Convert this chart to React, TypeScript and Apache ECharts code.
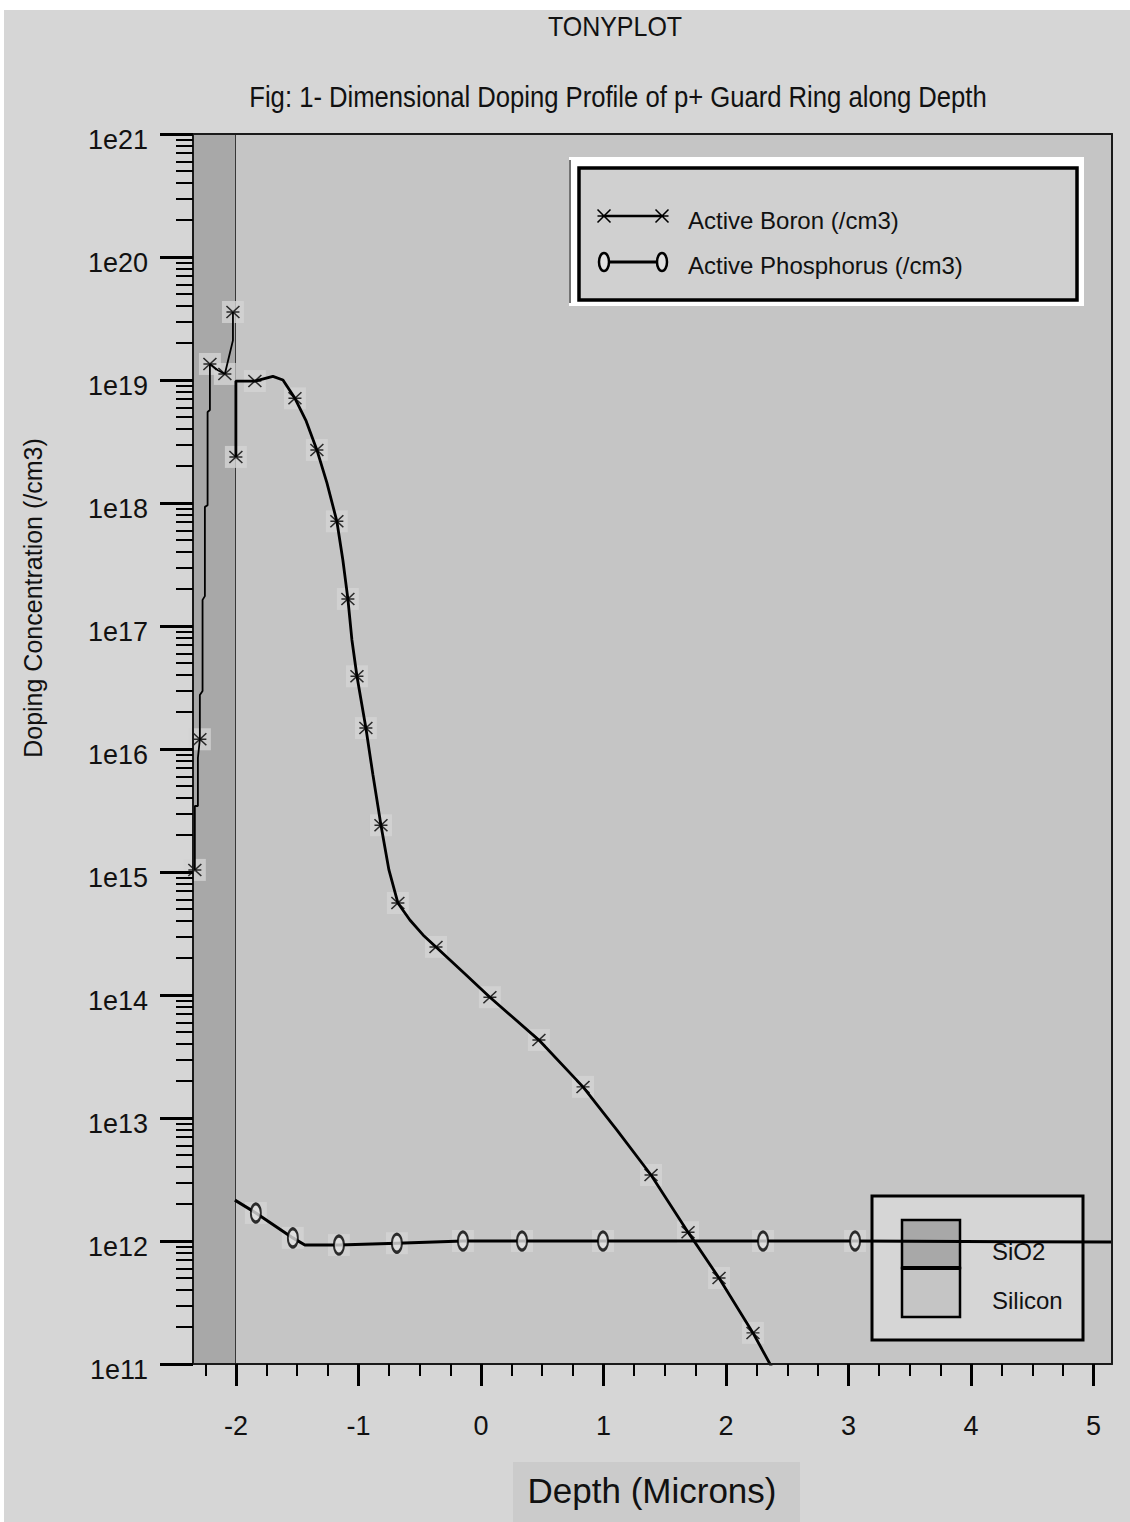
import React, { useEffect, useRef } from "react";
import * as echarts from "echarts";

// ---------- axis / tick data ----------
const xRange = [-2.35, 5.15];
const xTickValues = [-2, -1, 0, 1, 2, 3, 4, 5];
const xMinorStep = 0.25;
const yDecadeExponents = [11, 12, 13, 14, 15, 16, 17, 18, 19, 20, 21];
const yTickLabels = ["1e11", "1e12", "1e13", "1e14", "1e15", "1e16", "1e17", "1e18", "1e19", "1e20", "1e21"];
const yMinorMultipliers = [2, 3, 4, 5, 6, 7, 8, 9];

// ---------- material regions ----------
const regionNames = ["SiO2", "Silicon"];
const regionFrom = [-2.35, -2.0];
const regionTo = [-2.0, 5.15];
const regionColors = ["#a8a8a8", "#c5c5c5"];

// ---------- Active Boron, oxide layer ----------
const boronOxideX = [-2.335, -2.335, -2.31, -2.31, -2.294, -2.294, -2.272, -2.272, -2.253, -2.253, -2.231, -2.231, -2.212, -2.212, -2.147, -2.09, -2.049, -2.024, -2.024];
const boronOxideY = [1.04e15, 3.44e15, 3.44e15, 8.45e15, 1.2e16, 2.75e16, 2.96e16, 1.63e17, 1.75e17, 9.3e17, 9.6e17, 5.5e18, 5.7e18, 1.35e19, 1.2e19, 1.12e19, 1.66e19, 2.1e19, 3.57e19];
const boronOxideMarkers = [0, 4, 13, 15, 18];

// ---------- Active Boron, silicon ----------
const boronSiX = [-2.0, -2.0, -1.967, -1.845, -1.698, -1.616, -1.518, -1.429, -1.339, -1.257, -1.176, -1.127, -1.086, -1.053, -1.012, -0.939, -0.882, -0.816, -0.751, -0.678, -0.58, -0.473, -0.367, -0.147, 0.073, 0.473, 0.833, 1.11, 1.388, 1.69, 1.943, 2.22, 2.359, 2.441];
const boronSiY = [2.37e18, 9.8e18, 9.8e18, 9.8e18, 1.07e19, 1.0e19, 7.1e18, 4.7e18, 2.7e18, 1.46e18, 7.1e17, 3.44e17, 1.66e17, 7.7e16, 3.9e16, 1.48e16, 6.2e15, 2.4e15, 1.04e15, 5.6e14, 4.07e14, 3.08e14, 2.46e14, 1.54e14, 9.6e13, 4.3e13, 1.79e13, 7.98e12, 3.44e12, 1.18e12, 5.0e11, 1.79e11, 1.0e11, 7.1e10];
const boronSiMarkers = [0, 3, 6, 8, 10, 12, 14, 15, 17, 19, 22, 24, 25, 26, 28, 29, 30, 31];

// ---------- Active Phosphorus ----------
const phosX = [-2.008, -1.837, -1.535, -1.437, -1.159, -0.686, -0.147, 0.335, 0.996, 2.302, 3.053, 5.15];
const phosY = [2.15e12, 1.69e12, 1.06e12, 9.27e11, 9.27e11, 9.6e11, 1.0e12, 1.0e12, 1.0e12, 1.0e12, 1.0e12, 9.8e11];
const phosMarkers = [1, 2, 4, 5, 6, 7, 8, 9, 10];

// ---------- styles ----------
const SANS = "'Liberation Sans', Arial, 'DejaVu Sans', sans-serif";
const STAR_D = "M0,0L10,10M10,0L0,10M0,5L10,5";

const toPts = (xs: number[], ys: number[]) => xs.map((x, i) => [x, Math.log10(ys[i])]);
const pick = (pts: number[][], idx: number[]) => idx.map((i) => pts[i]);

function buildOption() {
  const boronOxide = toPts(boronOxideX, boronOxideY);
  const boronSi = toPts(boronSiX, boronSiY);
  const phos = toPts(phosX, phosY);
  const boronMarks = [...pick(boronOxide, boronOxideMarkers), ...pick(boronSi, boronSiMarkers)];
  const phosMarks = pick(phos, phosMarkers);

  const yMin = yDecadeExponents[0];
  const yMax = yDecadeExponents[yDecadeExponents.length - 1];
  const yMinor: number[] = [];
  yDecadeExponents.slice(0, -1).forEach((e) => yMinorMultipliers.forEach((m) => yMinor.push(e + Math.log10(m))));
  const xMinor: number[] = [];
  for (let v = Math.ceil(xRange[0] / xMinorStep) * xMinorStep; v <= xRange[1] + 1e-9; v += xMinorStep) {
    if (Math.abs(v - Math.round(v)) > 1e-6) xMinor.push(+v.toFixed(3));
  }

  const grid = { left: 193, top: 134, width: 919, height: 1230, containLabel: false };
  const noLine = { show: false, onZero: false };
  const frameLine = { show: true, onZero: false, lineStyle: { color: "#1a1a1a", width: 2 } };

  const labelStyle = { fontFamily: SANS, fontSize: 27, color: "#111" };

  return {
    animation: false,
    backgroundColor: "#ffffff",
    grid: [grid, { ...grid }],
    xAxis: [
      {
        gridIndex: 0, type: "value", position: "bottom", min: xRange[0], max: xRange[1], z: 6,
        axisLine: frameLine,
        axisTick: { show: true, length: 22, customValues: xTickValues, lineStyle: { color: "#000", width: 3 } },
        axisLabel: { ...labelStyle, margin: 48, customValues: xTickValues, formatter: (v: number) => String(v) },
        splitLine: { show: false },
      },
      {
        gridIndex: 0, type: "value", position: "top", min: xRange[0], max: xRange[1], z: 6,
        axisLine: frameLine, axisTick: { show: false }, axisLabel: { show: false }, splitLine: { show: false },
      },
      {
        gridIndex: 1, type: "value", position: "bottom", min: xRange[0], max: xRange[1], z: 6,
        axisLine: noLine,
        axisTick: { show: true, length: 12, customValues: xMinor, lineStyle: { color: "#000", width: 2 } },
        axisLabel: { show: false }, splitLine: { show: false },
      },
    ],
    yAxis: [
      {
        gridIndex: 0, type: "value", position: "left", min: yMin, max: yMax, interval: 1, z: 6,
        axisLine: frameLine,
        axisTick: { show: true, length: 33, lineStyle: { color: "#000", width: 3 } },
        axisLabel: {
          ...labelStyle, margin: 45, verticalAlign: "top", lineHeight: 12,
          formatter: (v: number) => yTickLabels[yDecadeExponents.indexOf(Math.round(v))] ?? "",
        },
        splitLine: { show: false },
      },
      {
        gridIndex: 0, type: "value", position: "right", min: yMin, max: yMax, z: 6,
        axisLine: frameLine, axisTick: { show: false }, axisLabel: { show: false }, splitLine: { show: false },
      },
      {
        gridIndex: 1, type: "value", position: "left", min: yMin, max: yMax, z: 6,
        axisLine: noLine,
        axisTick: { show: true, length: 17, customValues: yMinor, lineStyle: { color: "#000", width: 2 } },
        axisLabel: { show: false }, splitLine: { show: false },
      },
    ],
    series: [
      {
        name: "regions", type: "custom", xAxisIndex: 0, yAxisIndex: 0, z: 1, silent: true,
        data: regionNames.map((n, i) => ({ name: n, value: [regionFrom[i], regionTo[i]] })),
        renderItem: (params: any, api: any) => {
          const p0 = api.coord([api.value(0), yMax]);
          const p1 = api.coord([api.value(1), yMin]);
          const children: any[] = [
            { type: "rect", shape: { x: p0[0], y: p0[1], width: p1[0] - p0[0], height: p1[1] - p0[1] }, style: { fill: regionColors[params.dataIndex] } },
          ];
          if (api.value(1) < xRange[1]) {
            children.push({ type: "line", shape: { x1: p1[0], y1: p0[1], x2: p1[0], y2: p1[1] }, style: { stroke: "#111", lineWidth: 1.5 } });
          }
          return { type: "group", children };
        },
      },
      {
        name: "halo", type: "scatter", z: 3, silent: true, symbol: "rect", symbolSize: 22,
        itemStyle: { color: "#d3d3d3" }, data: [...boronMarks, ...phosMarks],
      },
      {
        name: "Active Boron (/cm3) oxide", type: "line", z: 4, showSymbol: false, data: boronOxide,
        lineStyle: { color: "#000", width: 1.8 },
      },
      {
        name: "Active Boron (/cm3)", type: "line", z: 4, showSymbol: false, data: boronSi,
        lineStyle: { color: "#000", width: 2.8 },
      },
      {
        name: "Active Phosphorus (/cm3)", type: "line", z: 4, showSymbol: false, data: phos,
        lineStyle: { color: "#000", width: 3 },
      },
      {
        name: "boron markers", type: "scatter", z: 5, data: boronMarks,
        symbol: "path://" + STAR_D, symbolSize: [13, 12],
        itemStyle: { color: "rgba(0,0,0,0)", borderColor: "#000", borderWidth: 1.5 },
      },
      {
        name: "phosphorus markers", type: "scatter", z: 5, data: phosMarks,
        symbol: "circle", symbolSize: [10, 18],
        itemStyle: { color: "#e2e2e2", borderColor: "#000", borderWidth: 2.5 },
      },
    ],
    graphic: [
      // panel
      { type: "rect", z: 0, silent: true, shape: { x: 4, y: 10, width: 1126, height: 1512 }, style: { fill: "#d6d6d6" } },
      // titles
      { type: "text", z: 7, x: 615, y: 27, scaleY: 1.1, style: { text: "TONYPLOT", font: `25px ${SANS}`, fill: "#111", textAlign: "center", textVerticalAlign: "middle" } },
      { type: "text", z: 7, x: 618, y: 97, scaleX: 0.95, scaleY: 1.1, style: { text: "Fig: 1- Dimensional Doping Profile of p+ Guard Ring along Depth", font: `27px ${SANS}`, fill: "#111", textAlign: "center", textVerticalAlign: "middle" } },
      // axis names
      { type: "text", z: 7, x: 33, y: 598, rotation: Math.PI / 2, style: { text: "Doping Concentration (/cm3)", font: `25px ${SANS}`, fill: "#111", textAlign: "center", textVerticalAlign: "middle" } },
      { type: "rect", z: 1, shape: { x: 513, y: 1462, width: 287, height: 60 }, style: { fill: "#cbcbcb" } },
      { type: "text", z: 7, x: 652, y: 1490, style: { text: "Depth (Microns)", font: `35px ${SANS}`, fill: "#111", textAlign: "center", textVerticalAlign: "middle" } },
      // series legend
      { type: "rect", z: 7, shape: { x: 569, y: 157, width: 515, height: 149 }, style: { fill: "#ffffff" } },
      { type: "line", z: 7, shape: { x1: 570, y1: 160, x2: 570, y2: 303 }, style: { stroke: "#444", lineWidth: 1.5 } },
      { type: "rect", z: 7, shape: { x: 579, y: 168, width: 498, height: 132 }, style: { fill: "#d0d0d0", stroke: "#000", lineWidth: 3.5 } },
      { type: "line", z: 8, shape: { x1: 604, y1: 216, x2: 662, y2: 216 }, style: { stroke: "#000", lineWidth: 2.5 } },
      { type: "boronStar", z: 8, x: 604 - 6.5, y: 216 - 6.5, scaleX: 1.3, scaleY: 1.3, style: { stroke: "#000", fill: "none", lineWidth: 1.2 } },
      { type: "boronStar", z: 8, x: 662 - 6.5, y: 216 - 6.5, scaleX: 1.3, scaleY: 1.3, style: { stroke: "#000", fill: "none", lineWidth: 1.2 } },
      { type: "text", z: 8, x: 688, y: 220, style: { text: "Active Boron (/cm3)", font: `24px ${SANS}`, fill: "#111", textVerticalAlign: "middle" } },
      { type: "line", z: 8, shape: { x1: 604, y1: 262, x2: 662, y2: 262 }, style: { stroke: "#000", lineWidth: 3 } },
      { type: "ellipse", z: 8, shape: { cx: 604, cy: 262, rx: 5, ry: 9 }, style: { fill: "#e2e2e2", stroke: "#000", lineWidth: 2.5 } },
      { type: "ellipse", z: 8, shape: { cx: 662, cy: 262, rx: 5, ry: 9 }, style: { fill: "#e2e2e2", stroke: "#000", lineWidth: 2.5 } },
      { type: "text", z: 8, x: 688, y: 265, style: { text: "Active Phosphorus (/cm3)", font: `24px ${SANS}`, fill: "#111", textVerticalAlign: "middle" } },
      // material legend (under the curves)
      { type: "rect", z: 2, shape: { x: 872, y: 1196, width: 211, height: 144 }, style: { fill: "#d6d6d6", stroke: "#000", lineWidth: 3 } },
      { type: "rect", z: 2, shape: { x: 902, y: 1220, width: 58, height: 48 }, style: { fill: regionColors[0], stroke: "#000", lineWidth: 2.5 } },
      { type: "rect", z: 2, shape: { x: 902, y: 1268, width: 58, height: 49 }, style: { fill: regionColors[1], stroke: "#000", lineWidth: 2.5 } },
      { type: "line", z: 2, shape: { x1: 902, y1: 1268, x2: 960, y2: 1268 }, style: { stroke: "#000", lineWidth: 4 } },
      { type: "text", z: 2, x: 992, y: 1251, style: { text: regionNames[0], font: `24px ${SANS}`, fill: "#111", textVerticalAlign: "middle" } },
      { type: "text", z: 2, x: 992, y: 1300, style: { text: regionNames[1], font: `24px ${SANS}`, fill: "#111", textVerticalAlign: "middle" } },
    ],
  };
}

export default function App() {
  const ref = useRef<HTMLDivElement>(null);
  useEffect(() => {
    if (!ref.current) return;
    try {
      echarts.graphic.registerShape("boronStar", echarts.graphic.extendPath(STAR_D, {}) as any);
    } catch (e) {
      /* already registered */
    }
    const chart = echarts.init(ref.current, null, { renderer: "svg" });
    chart.setOption(buildOption() as any);
    return () => chart.dispose();
  }, []);
  return (
    <div
      ref={ref}
      style={{ position: "absolute", left: 0, top: 0, width: 1130, height: 1522, background: "#fff" }}
    />
  );
}
